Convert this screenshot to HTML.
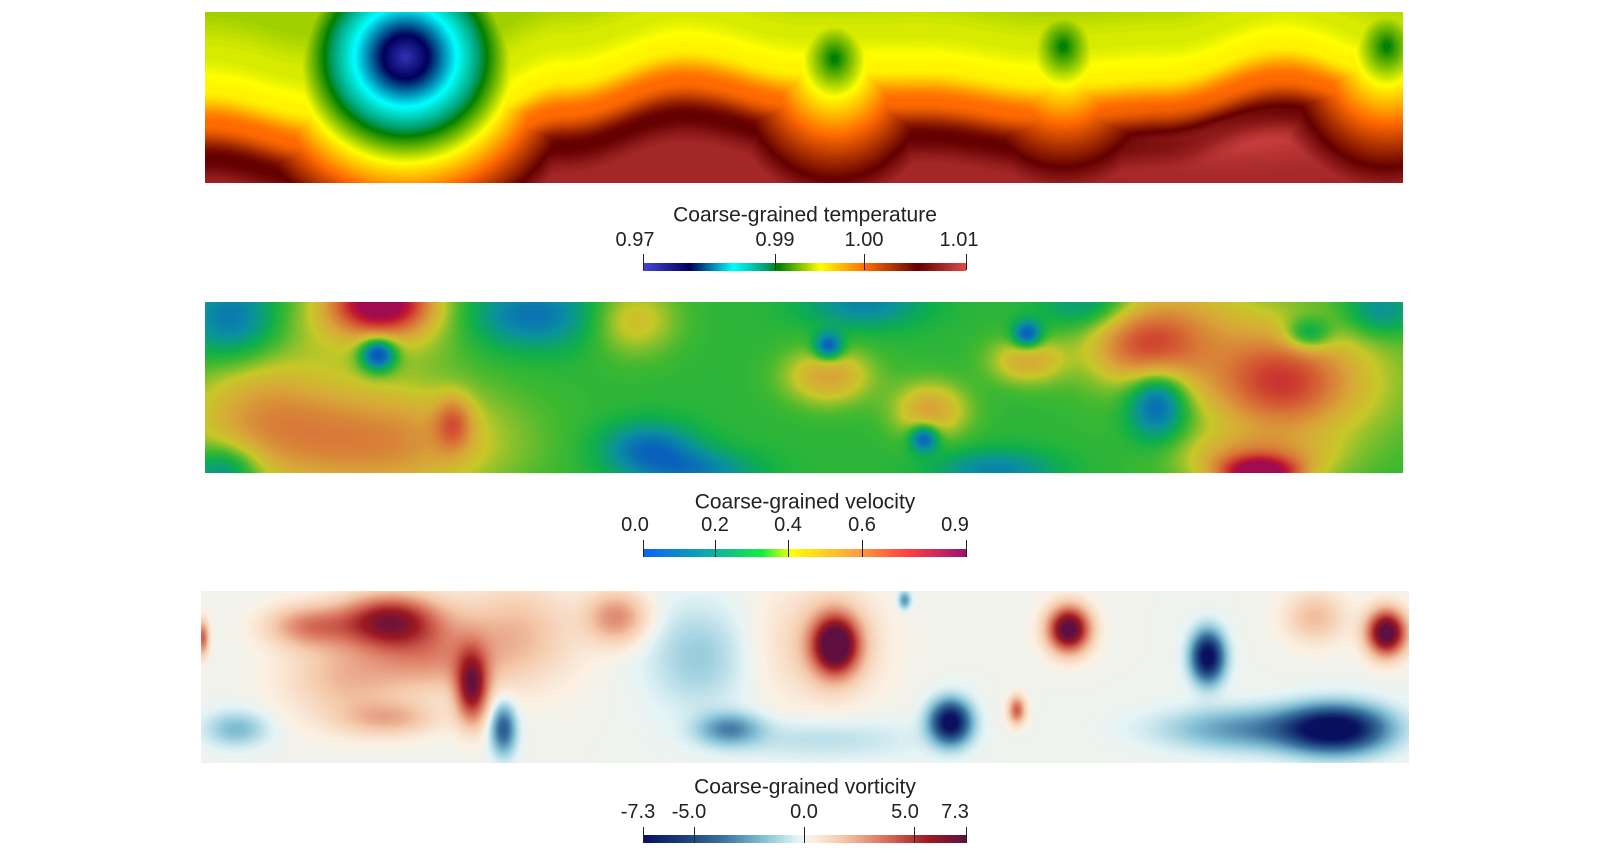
<!DOCTYPE html>
<html><head><meta charset="utf-8">
<style>
html,body{margin:0;padding:0;background:#fff;}
#root{position:relative;width:1612px;height:858px;overflow:hidden;font-family:"Liberation Sans",sans-serif;color:#222;}
canvas{position:absolute;display:block;}
.t{position:absolute;font-size:21px;white-space:nowrap;transform:translate(-50%,-50%);line-height:1;}
.l{position:absolute;font-size:20px;white-space:nowrap;transform:translate(-50%,-50%);line-height:1;}
.bar{position:absolute;height:8px;}
.tick{position:absolute;width:1px;background:#222;}
</style></head>
<body>
<div id="root">
<canvas id="cT" width="1198" height="171" style="left:205px;top:12px"></canvas>
<canvas id="cV" width="1198" height="171" style="left:205px;top:302px"></canvas>
<canvas id="cW" width="1208" height="172" style="left:201px;top:591px"></canvas>

<div class="t" style="left:805px;top:215px">Coarse-grained temperature</div>
<div class="l" style="left:635px;top:240px">0.97</div>
<div class="l" style="left:775px;top:240px">0.99</div>
<div class="l" style="left:864px;top:240px">1.00</div>
<div class="l" style="left:959px;top:240px">1.01</div>
<div class="bar" style="left:643px;top:263px;width:323px;background:linear-gradient(to right,#4646dc 0%,#00005a 14.5%,#00ffff 28%,#00a070 38%,#008000 42%,#ffff00 55%,#ff6a00 69%,#640000 85%,#dc4a4a 100%)"></div>
<div class="tick" style="left:643px;top:254px;height:16px"></div>
<div class="tick" style="left:775px;top:254px;height:16px"></div>
<div class="tick" style="left:864px;top:254px;height:16px"></div>
<div class="tick" style="left:966px;top:254px;height:16px"></div>

<div class="t" style="left:805px;top:502px">Coarse-grained velocity</div>
<div class="l" style="left:635px;top:525px">0.0</div>
<div class="l" style="left:715px;top:525px">0.2</div>
<div class="l" style="left:788px;top:525px">0.4</div>
<div class="l" style="left:862px;top:525px">0.6</div>
<div class="l" style="left:955px;top:525px">0.9</div>
<div class="bar" style="left:643px;top:549px;width:323px;background:linear-gradient(to right,#0a64f8 0%,#10b0a0 22%,#10f040 37%,#ffff00 46%,#ffa040 66%,#ff4040 82%,#a01070 100%)"></div>
<div class="tick" style="left:643px;top:540px;height:17px"></div>
<div class="tick" style="left:715px;top:540px;height:17px"></div>
<div class="tick" style="left:788px;top:540px;height:17px"></div>
<div class="tick" style="left:862px;top:540px;height:17px"></div>
<div class="tick" style="left:966px;top:540px;height:17px"></div>

<div class="t" style="left:805px;top:787px">Coarse-grained vorticity</div>
<div class="l" style="left:638px;top:812px">-7.3</div>
<div class="l" style="left:689px;top:812px">-5.0</div>
<div class="l" style="left:804px;top:812px">0.0</div>
<div class="l" style="left:905px;top:812px">5.0</div>
<div class="l" style="left:955px;top:812px">7.3</div>
<div class="bar" style="left:643px;top:835px;width:323px;background:linear-gradient(to right,#0a1060 0%,#1a3c78 12%,#3a74a0 25%,#88c4d8 38%,#e4f4f6 48%,#fbf1e4 52%,#f4c8a8 62%,#d8705a 75%,#a01a22 88%,#601040 100%)"></div>
<div class="tick" style="left:643px;top:827px;height:16px"></div>
<div class="tick" style="left:694px;top:827px;height:16px"></div>
<div class="tick" style="left:804px;top:827px;height:16px"></div>
<div class="tick" style="left:914px;top:827px;height:16px"></div>
<div class="tick" style="left:966px;top:827px;height:16px"></div>
</div>
<script>
// ---- temperature data (normalized colormap units 0..1) ----
const tempFrontU = [0,0.1,0.2,0.3,0.4,0.5,0.6,0.7,0.8,0.9,1];
const tempFrontV = [0.65,0.78,0.87,0.58,0.4,0.53,0.52,0.6,0.56,0.38,0.57];
const tempProfileD = [-0.7,-0.4,-0.2,0,0.2,0.38,1];
const tempProfileT = [0.5,0.53,0.56,0.69,0.85,0.93,0.93];
// cold spots: u, v, rx, ry, core, slope
const coldU = [0.167,0.525,0.716,0.986];
const coldV = [0.26,0.27,0.2,0.2];
const coldRx = [0.082,0.028,0.028,0.028];
const coldRy = [0.56,0.24,0.24,0.24];
const coldCore = [0.04,0.41,0.41,0.41];
const coldSlope = [0.46,0.15,0.15,0.15];
const tempStops = [[0,'#4646dc'],[0.145,'#00005a'],[0.28,'#00ffff'],[0.38,'#00a070'],[0.42,'#008000'],[0.55,'#ffff00'],[0.69,'#ff6a00'],[0.85,'#640000'],[1,'#dc4a4a']];

// ---- velocity data ----
const velBase = 0.28;
const velU = [0.146,0.146,0.14,0.046,0.207,0.144,0.023,0.017,0.27,0.37,0.357,0.52,0.52,0.6,0.605,0.686,0.686,0.786,0.805,0.897,0.914,0.795,0.88,0.876,0.92,0.41,0.66,0.55,0.74,0.98];
const velV = [0.0,0.08,0.81,0.63,0.71,0.3,0.1,0.97,0.07,0.85,0.1,0.26,0.43,0.79,0.63,0.19,0.34,0.26,0.16,0.47,0.46,0.57,1.0,0.91,0.19,0.98,0.98,0.0,0.02,0.05];
const velRx = [0.035,0.07,0.1,0.06,0.015,0.015,0.04,0.03,0.06,0.04,0.035,0.012,0.035,0.012,0.03,0.012,0.03,0.04,0.07,0.05,0.09,0.025,0.03,0.06,0.02,0.05,0.05,0.05,0.04,0.03];
const velRy = [0.15,0.25,0.32,0.35,0.15,0.1,0.25,0.15,0.2,0.15,0.2,0.08,0.16,0.08,0.16,0.08,0.13,0.2,0.35,0.25,0.4,0.22,0.09,0.15,0.1,0.12,0.12,0.15,0.15,0.15];
const velAmp = [0.5,0.16,0.24,0.15,0.2,-0.3,-0.15,-0.15,-0.15,-0.15,0.13,-0.22,0.18,-0.22,0.18,-0.22,0.16,0.22,0.16,0.24,0.14,-0.22,0.55,0.18,-0.17,-0.12,-0.12,-0.12,-0.12,-0.12];
const velStops = [[0,'#0a3fb0'],[0.12,'#0a62bc'],[0.2,'#0a90a0'],[0.28,'#10b048'],[0.33,'#40b830'],[0.42,'#c8c828'],[0.5,'#d8a838'],[0.6,'#d87838'],[0.7,'#d04830'],[0.8,'#c01830'],[0.9,'#a00c50']];

// ---- vorticity data ----
const vortU = [0.525,0.718,0.981,0.675,0.156,0.224,0.089,0.19,0.344,0.156,0.001,0.922,0.514,0.62,0.833,0.939,0.87,0.25,0.437,0.411,0.029,0.582,0.514,0.12,0.26];
const vortV = [0.31,0.22,0.24,0.69,0.17,0.56,0.2,0.38,0.15,0.74,0.27,0.15,0.3,0.76,0.38,0.8,0.8,0.8,0.8,0.38,0.8,0.05,0.86,0.5,0.25];
const vortRx = [0.019,0.017,0.016,0.007,0.04,0.013,0.035,0.05,0.025,0.04,0.005,0.025,0.05,0.016,0.013,0.04,0.07,0.01,0.025,0.04,0.025,0.005,0.08,0.05,0.05];
const vortRy = [0.17,0.13,0.13,0.08,0.15,0.2,0.12,0.2,0.15,0.1,0.1,0.15,0.35,0.12,0.14,0.13,0.12,0.14,0.09,0.3,0.1,0.05,0.12,0.25,0.3];
const vortAmp = [8,8,8,4,6,6,3,2.5,3,2,4,2,1.5,-8,-8,-8,-3,-4.5,-3,-1.5,-2,-3,-1,2,2];
const vortStops = [[0,'#0a1060'],[0.12,'#1a3c78'],[0.25,'#3a74a0'],[0.38,'#88c4d8'],[0.48,'#e4f4f6'],[0.52,'#fbf1e4'],[0.62,'#f4c8a8'],[0.75,'#d8705a'],[0.88,'#a01a22'],[1,'#601040']];

function hex(h){return [parseInt(h.substr(1,2),16),parseInt(h.substr(3,2),16),parseInt(h.substr(5,2),16)];}
function makeLUT(stops){
  const s=stops.map(x=>[x[0],hex(x[1])]);const lut=[];
  for(let i=0;i<=255;i++){const t=i/255;let k=0;while(k<s.length-2&&t>s[k+1][0])k++;
    const a=s[k],b=s[k+1];let f=(t-a[0])/(b[0]-a[0]);f=Math.max(0,Math.min(1,f));
    lut.push([0,1,2].map(c=>Math.round(a[1][c]+(b[1][c]-a[1][c])*f)));}
  return lut;}
function interp(xs,ys,x){if(x<=xs[0])return ys[0];for(let i=1;i<xs.length;i++){if(x<=xs[i]){const f=(x-xs[i-1])/(xs[i]-xs[i-1]);const g=(1-Math.cos(Math.PI*f))/2;return ys[i-1]+(ys[i]-ys[i-1])*g;}}return ys[ys.length-1];}
function render(id,fn,lut){
  const c=document.getElementById(id),ctx=c.getContext('2d'),W=c.width,H=c.height;
  const img=ctx.createImageData(W,H),d=img.data;
  for(let y=0;y<H;y++)for(let x=0;x<W;x++){
    let t=fn(x/W,y/H);t=Math.max(0,Math.min(1,t));const col=lut[Math.round(t*255)];
    const p=(y*W+x)*4;d[p]=col[0];d[p+1]=col[1];d[p+2]=col[2];d[p+3]=255;}
  ctx.putImageData(img,0,0);}
function gsum(u,v,U,V,RX,RY,A){let s=0;for(let i=0;i<U.length;i++){const dx=(u-U[i])/RX[i],dy=(v-V[i])/RY[i];s+=A[i]*Math.exp(-(dx*dx+dy*dy));}return s;}

render('cT',function(u,v){
  const h=interp(tempFrontU,tempFrontV,u);
  let t=interp(tempProfileD,tempProfileT,v-h);
  const dx=(u-0.85)/0.1,dy=(v-0.72)/0.15;t+=0.05*Math.exp(-(dx*dx+dy*dy));
  for(let i=0;i<coldU.length;i++){const ex=(u-coldU[i])/coldRx[i],ey=(v-coldV[i])/coldRy[i];const r=Math.sqrt(ex*ex+ey*ey);const c=coldCore[i]+coldSlope[i]*r;if(c<t)t=c;}
  return t;},makeLUT(tempStops));
render('cV',function(u,v){return (velBase+gsum(u,v,velU,velV,velRx,velRy,velAmp))/0.9;},makeLUT(velStops));
render('cW',function(u,v){const w=gsum(u,v,vortU,vortV,vortRx,vortRy,vortAmp);return (w+7.3)/14.6;},makeLUT(vortStops));
</script>
</body></html>
